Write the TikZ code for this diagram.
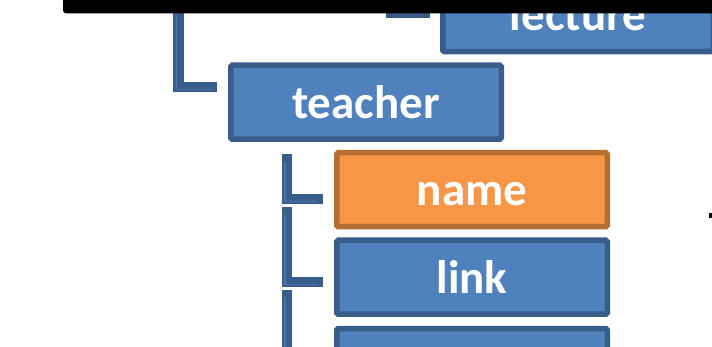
\documentclass[tikz,border=0pt]{standalone}
\usepackage{fontspec}
\setmainfont{Carlito}
\definecolor{boxfill}{HTML}{4F81BD}
\definecolor{boxline}{HTML}{385D8A}
\definecolor{hlfill}{HTML}{F79646}
\definecolor{hlline}{HTML}{B66D31}
\definecolor{connlight}{HTML}{4A74AC}
\begin{document}
\begin{tikzpicture}[x=1pt,y=-1pt,
  box/.style={draw=boxline, fill=boxfill, line width=5.5pt, minimum width=270.5pt, minimum height=74pt, rounded corners=1.5pt, inner sep=0pt},
  hlbox/.style={box, draw=hlline, fill=hlfill},
  lbl/.style={text=white, font=\fontsize{47}{51}\selectfont\bfseries, anchor=base, inner sep=0pt},
  conn/.style={draw=boxline, line width=10.5pt, line cap=rect, line join=miter},
  conninner/.style={draw=connlight, line width=1.2pt}]
\useasboundingbox (0,0) rectangle (712,346);
\clip (0,0) rectangle (712,346);
% boxes
\node[box] (lecture) at (578,14.65) {};
\node[box] (teacher) at (366,102.15) {};
\node[hlbox] (name) at (472,189.65) {};
\node[box] (link) at (472,277.2) {};
\node[box] (third) at (472,365.5) {};
% labels
\node[lbl] (lecturetxt) at ([yshift=-16pt]lecture.center) {lecture};
\node[lbl] (teachertxt) at ([yshift=-16pt]teacher.center) {teacher};
\node[lbl] (nametxt) at ([yshift=-16pt]name.center) {name};
\node[lbl] (linktxt) at ([yshift=-16pt]link.center) {link};
% connector start points
\coordinate (c0) at (391.7,-10);
\coordinate (c1) at (178.3,-10);
\coordinate (c2) at (287,159.5);
\coordinate (c3) at (287,212.5);
\coordinate (c4) at (287,295.3);
% connectors
\draw[conn] (c0) |- ([xshift=-15.25pt,yshift=1.65pt]lecture.west);
\draw[conn] (c1) |- ([xshift=-16.3pt,yshift=15.15pt]teacher.west);
\draw[conn] (c2) |- ([xshift=-16pt,yshift=-9.15pt]name.west);
\draw[conn] (c3) |- ([xshift=-16pt,yshift=-4.8pt]link.west);
\draw[conn] (c4) |- ([xshift=-16pt,yshift=-4.5pt]third.west);
\draw[conninner] ([xshift=-2pt]c1) |- ([xshift=-16.3pt,yshift=13pt]teacher.west);
\draw[conninner] ([xshift=-2pt,yshift=-2pt]c2) |- ([xshift=-17pt,yshift=-11.5pt]name.west);
\draw[conninner] ([xshift=-2pt,yshift=-2pt]c3) |- ([xshift=-17pt,yshift=-7pt]link.west);
\draw[conninner] ([xshift=-2pt,yshift=-2pt]c4) -- ++(0,60);
% black bar on top
\fill[black, rounded corners=3pt] (63,-10) rectangle (730,13.3);
% small mark at right edge
\fill[black] (709,213) rectangle (712,218);
\end{tikzpicture}
\end{document}
